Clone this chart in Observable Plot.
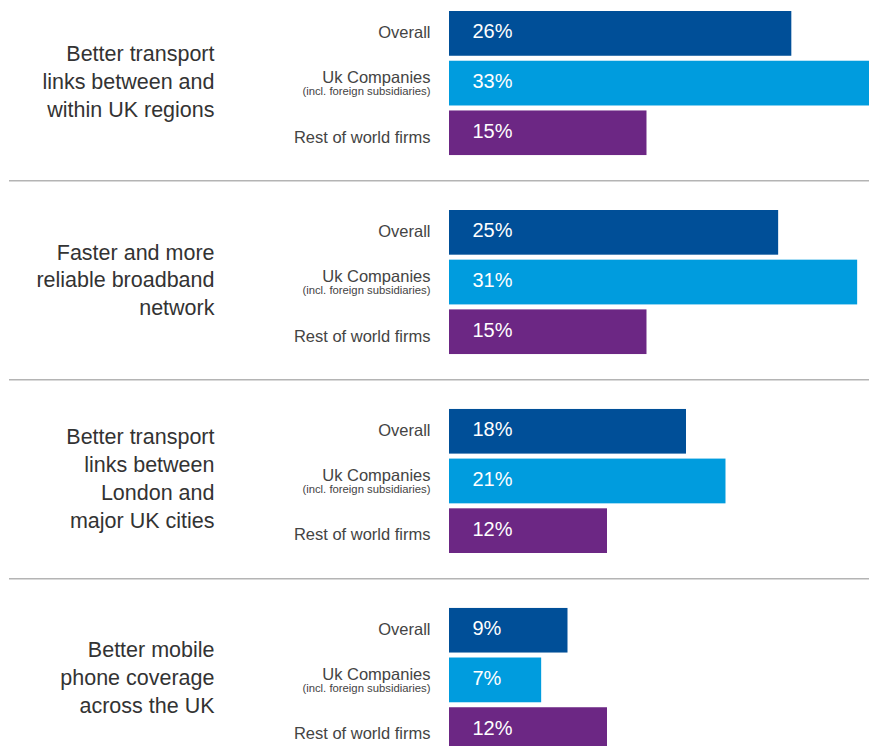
<!DOCTYPE html>
<html>
<head>
<meta charset="utf-8">
<script src="https://cdn.jsdelivr.net/npm/d3@7"></script>
<script src="https://cdn.jsdelivr.net/npm/@observablehq/plot@0.6"></script>
<style>
  html, body { margin: 0; padding: 0; background: #fff; }
  #chart svg { overflow: hidden; display: block; }
</style>
</head>
<body>
<div id="chart"></div>
<script>
const topics = [
  "Better transport\nlinks between and\nwithin UK regions",
  "Faster and more\nreliable broadband\nnetwork",
  "Better transport\nlinks between\nLondon and\nmajor UK cities",
  "Better mobile\nphone coverage\nacross the UK"
];
const series = ["Overall", "Uk Companies", "Rest of world firms"];
const seriesNotes = ["", "(incl. foreign subsidiaries)", ""];
const overall = [26, 25, 18, 9];
const ukCompanies = [33, 31, 21, 7];
const restOfWorld = [15, 15, 12, 12];
const colors = ["#004f98", "#009cde", "#6c2784"];

const valuesBySeries = [overall, ukCompanies, restOfWorld];
const rows = [];
topics.forEach((topic, ti) => {
  series.forEach((s, si) => {
    rows.push({topic, series: s, note: seriesNotes[si], value: valuesBySeries[si][ti]});
  });
});
const separators = topics.slice(1).map(topic => ({topic, series: series[0]}));

const font = "'Liberation Sans', Arial, sans-serif";

const chart = Plot.plot({
  width: 869,
  height: 746,
  marginTop: 11,
  marginBottom: -6,
  marginLeft: 9,
  marginRight: 0,
  style: {fontFamily: font, background: "#fff"},
  x: {domain: [0, 31.9], range: [449, 869], axis: null},
  y: {domain: series, paddingInner: 0.1, paddingOuter: 0, round: false, axis: null},
  fy: {domain: topics, paddingInner: 0.275, paddingOuter: 0, round: false, axis: null},
  color: {domain: series, range: colors},
  marks: [
    Plot.ruleY(separators, {fy: "topic", y: "series", stroke: "#b4b4b4", strokeWidth: 1.5, dy: -52}),
    Plot.barX(rows, {fy: "topic", y: "series", x: "value", fill: "series", clip: true}),
    Plot.text(rows, {fy: "topic", y: "series", x: 0, text: d => d.value + "%", textAnchor: "start", dx: 23, dy: -2, fill: "white", fontSize: 20}),
    Plot.text(rows.filter(d => d.series === series[0]), {fy: "topic", y: "series", x: 0, text: "series", textAnchor: "end", dx: -19, dy: -1, fill: "#444", fontSize: 16.5}),
    Plot.text(rows.filter(d => d.note), {fy: "topic", y: "series", x: 0, text: "series", textAnchor: "end", dx: -19, dy: -6, fill: "#444", fontSize: 16.5}),
    Plot.text(rows.filter(d => d.note), {fy: "topic", y: "series", x: 0, text: "note", textAnchor: "end", dx: -19, dy: 8, fill: "#444", fontSize: 11.3}),
    Plot.text(rows.filter(d => d.series === series[2]), {fy: "topic", y: "series", x: 0, text: "series", textAnchor: "end", dx: -19, dy: 4, fill: "#444", fontSize: 16.5}),
    Plot.text(topics, {fy: d => d, text: d => d, frameAnchor: "left", dx: 205, dy: -4, textAnchor: "end", lineHeight: 1.3, fill: "#333", fontSize: 21.5})
  ]
});
document.getElementById("chart").appendChild(chart);
</script>
</body>
</html>
